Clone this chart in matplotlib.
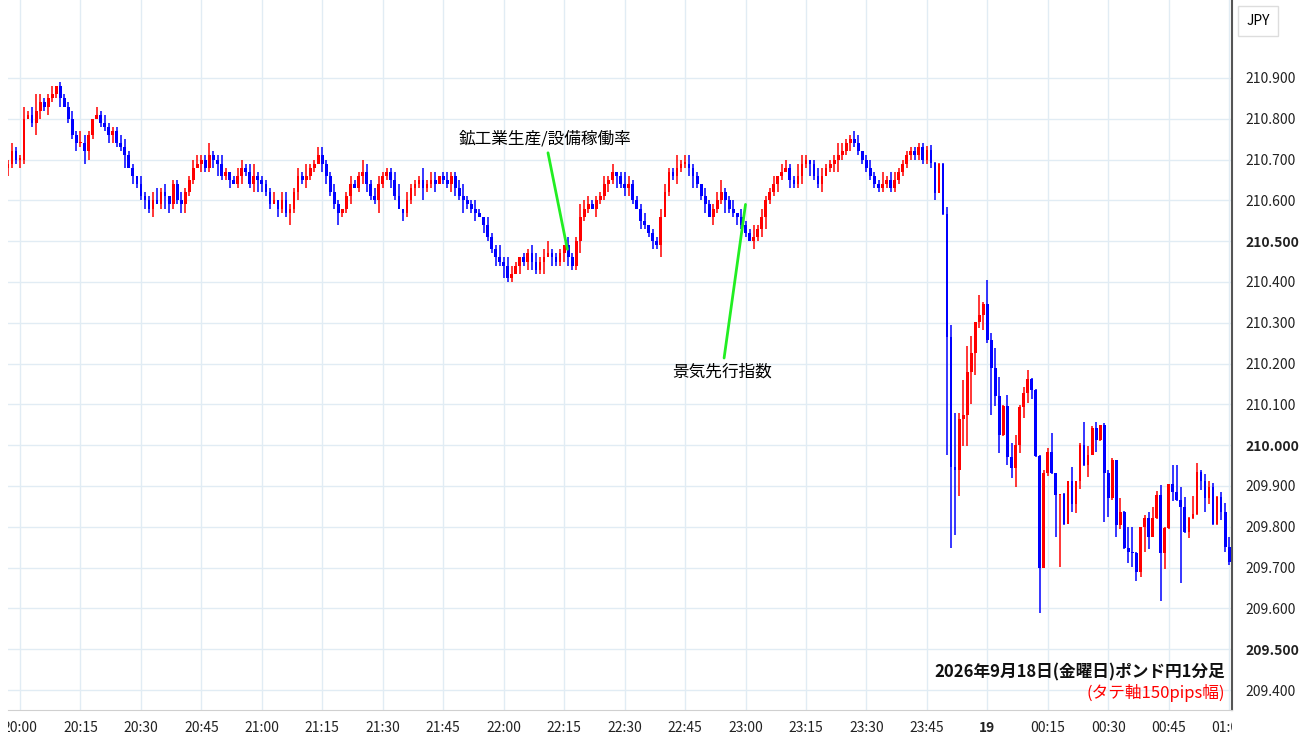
import matplotlib.pyplot as plt
from matplotlib.transforms import Bbox, TransformedBbox

plt.rcParams['font.family'] = ['Noto Sans CJK JP', 'DejaVu Sans']

# 1-minute closes, 19:57 .. 23:45
quiet_close = [
    210.690, 210.720, 210.700,
    210.700, 210.800, 210.810, 210.790, 210.820, 210.840, 210.830, 210.850, 210.860, 210.880, 210.850, 210.830, 210.800, 210.760, 210.740,
    210.740, 210.720, 210.760, 210.800, 210.810, 210.790, 210.780, 210.760, 210.770, 210.740, 210.730, 210.710, 210.680, 210.660, 210.640,
    210.610, 210.600, 210.580, 210.600, 210.590, 210.620, 210.610, 210.590, 210.640, 210.600, 210.590, 210.620, 210.650, 210.680, 210.690,
    210.700, 210.680, 210.710, 210.700, 210.690, 210.660, 210.670, 210.650, 210.640, 210.660, 210.680, 210.670, 210.640, 210.660, 210.650,
    210.640, 210.620, 210.590, 210.600, 210.580, 210.600, 210.570, 210.580, 210.620, 210.660, 210.650, 210.660, 210.680, 210.690, 210.710,
    210.690, 210.660, 210.620, 210.590, 210.570, 210.580, 210.610, 210.640, 210.630, 210.660, 210.670, 210.640, 210.610, 210.600, 210.640,
    210.660, 210.670, 210.650, 210.610, 210.580, 210.570, 210.600, 210.630, 210.640, 210.650, 210.630, 210.640, 210.650, 210.640, 210.660,
    210.650, 210.640, 210.660, 210.630, 210.610, 210.600, 210.590, 210.580, 210.570, 210.560, 210.540, 210.510, 210.480, 210.460, 210.450,
    210.440, 210.410, 210.420, 210.440, 210.460, 210.450, 210.470, 210.450, 210.430, 210.450, 210.460, 210.470, 210.460, 210.450, 210.470,
    210.490, 210.460, 210.440, 210.500, 210.560, 210.580, 210.590, 210.580, 210.600, 210.610, 210.640, 210.650, 210.670, 210.660, 210.640,
    210.630, 210.640, 210.600, 210.580, 210.550, 210.540, 210.520, 210.500, 210.490, 210.560, 210.620, 210.670, 210.660, 210.680, 210.690,
    210.690, 210.680, 210.660, 210.640, 210.610, 210.590, 210.560, 210.580, 210.600, 210.620, 210.600, 210.580, 210.570, 210.560, 210.540,
    210.520, 210.500, 210.510, 210.530, 210.560, 210.600, 210.620, 210.640, 210.660, 210.670, 210.680, 210.650, 210.640, 210.660, 210.690,
    210.700, 210.690, 210.660, 210.640, 210.660, 210.680, 210.690, 210.700, 210.710, 210.720, 210.740, 210.750, 210.740, 210.720, 210.700,
    210.680, 210.660, 210.640, 210.630, 210.640, 210.650, 210.630, 210.650, 210.670, 210.690, 210.710, 210.720, 210.710, 210.730, 210.700,
    210.723,
]
# wick sizes in pips for the quiet part
wick_up = "1211312421120111213210212111221102112312011211221131121012212311112022112131122112101211321221112302111312201211231121021131221011221231110211322111212013211120112211312211021123112021131211202211321012211132112201211312211"
wick_dn = "2112101321211201121321011221130211212013211221102112311201211232110211312121102211311201221131121021121311201122131120211213110212211302112211311021121312210211213011211231120211311211021231121021121311201231121"

# 23:46 .. 01:00
tail_close = [210.692, 210.619, 210.689, 210.567, 210.264, 209.947, 209.939, 210.063, 210.074, 210.179, 210.225, 210.302, 210.319,
              210.346, 210.258, 210.190, 210.121, 210.025, 210.096, 209.970, 209.945, 210.000, 210.094, 210.127, 210.161, 210.135,
              209.973, 209.700, 209.931, 209.984, 209.931, 209.878, 209.880, 209.808, 209.911, 209.857, 209.911, 210.000, 209.951,
              209.976, 210.041, 210.013, 210.049, 209.931, 209.870, 209.964, 209.804, 209.837, 209.747, 209.739, 209.735, 209.690,
              209.799, 209.821, 209.776, 209.821, 209.878, 209.735, 209.796, 209.905, 209.886, 209.866, 209.849, 209.788, 209.821,
              209.831, 209.935, 209.911, 209.870, 209.898, 209.806, 209.874, 209.837, 209.751, 209.714]
tail_high = [210.736, 210.695, 210.692, 210.691, 210.583, 210.295, 210.078, 210.080, 210.160, 210.243, 210.268, 210.303, 210.368,
             210.352, 210.405, 210.274, 210.237, 210.168, 210.098, 210.123, 210.006, 210.025, 210.098, 210.143, 210.184, 210.164,
             210.137, 209.976, 209.939, 209.992, 210.029, 209.933, 209.880, 209.882, 209.913, 209.947, 209.913, 210.006, 210.058,
             209.998, 210.048, 210.058, 210.049, 210.054, 209.939, 209.968, 209.964, 209.870, 209.839, 209.800, 209.800, 209.737,
             209.799, 209.829, 209.837, 209.849, 209.888, 209.902, 209.799, 209.905, 209.951, 209.951, 209.898, 209.874, 209.823,
             209.875, 209.956, 209.938, 209.929, 209.913, 209.908, 209.875, 209.886, 209.859, 209.774]
tail_low = [210.679, 210.601, 210.617, 210.564, 209.976, 209.749, 209.780, 209.876, 209.998, 209.998, 210.100, 210.172, 210.286,
            210.282, 210.251, 210.074, 210.096, 209.982, 210.022, 209.951, 209.919, 209.898, 209.982, 210.067, 210.103, 210.112,
            209.972, 209.588, 209.700, 209.924, 209.929, 209.774, 209.702, 209.804, 209.807, 209.837, 209.833, 209.892, 209.949,
            209.923, 209.976, 209.984, 210.011, 209.812, 209.825, 209.866, 209.774, 209.794, 209.745, 209.712, 209.701, 209.666,
            209.676, 209.737, 209.745, 209.774, 209.818, 209.619, 209.696, 209.794, 209.862, 209.864, 209.663, 209.786, 209.772,
            209.818, 209.829, 209.890, 209.837, 209.856, 209.804, 209.804, 209.817, 209.737, 209.706]

time_labels = ['20:00', '20:15', '20:30', '20:45', '21:00', '21:15', '21:30', '21:45', '22:00', '22:15', '22:30',
               '22:45', '23:00', '23:15', '23:30', '23:45', '19', '00:15', '00:30', '00:45', '01:00']
price_ticks = [209.4, 209.5, 209.6, 209.7, 209.8, 209.9, 210.0, 210.1, 210.2, 210.3, 210.4, 210.5, 210.6, 210.7, 210.8, 210.9]

nq = len(quiet_close)
up = [int(c) for c in wick_up.ljust(nq, '1')[:nq]]
dn = [int(c) for c in wick_dn.ljust(nq, '1')[:nq]]
close = quiet_close + tail_close
opn = [210.680] + close[:-1]
high, low = [], []
for i, (o, c) in enumerate(zip(opn, close)):
    if i < nq:
        high.append(max(o, c) + up[i] * 0.01)
        low.append(min(o, c) - dn[i] * 0.01)
    else:
        high.append(max(tail_high[i - nq], o, c))
        low.append(min(tail_low[i - nq], o, c))
x = [i - 3 for i in range(len(close))]

fig = plt.figure(figsize=(13, 7.45), dpi=100)
ax = fig.add_axes([8 / 1300, 35 / 745, 1224 / 1300, 710 / 745])
ax.set_xlim(-2.98, 300.7)
ax.set_ylim(209.351, 211.091)

for xi, o, c, h, l in zip(x, opn, close, high, low):
    col = '#ff0000' if c >= o else '#0000ff'
    ax.vlines(xi, l, h, color=col, lw=1.1, zorder=2)
    ax.bar(xi, max(abs(c - o), 0.003), bottom=min(o, c), width=0.68, color=col, zorder=3)

ax.set_yticks(price_ticks)
ax.set_xticks(range(0, 301, 15))
ax.grid(True, color='#e1ecf4', lw=1)
ax.set_axisbelow(True)
for s in ['top', 'left']:
    ax.spines[s].set_visible(False)
ax.spines['right'].set_color('#555555')
ax.spines['right'].set_linewidth(1.5)
ax.spines['bottom'].set_color('#d0d0d0')
ax.yaxis.tick_right()
ax.tick_params(axis='y', length=0, pad=10, labelsize=10, colors='#222222')
ax.tick_params(axis='x', length=0, pad=8, labelsize=10, colors='#222222')
ax.set_yticklabels([f'{p:.3f}' for p in price_ticks])
for t in ax.get_yticklabels():
    if t.get_text() in ('210.500', '210.000', '209.500'):
        t.set_fontweight('bold')
ax.set_xticklabels(time_labels)
clip = TransformedBbox(Bbox([[8 / 1300, 0], [1232 / 1300, 1]]), fig.transFigure)
for t in ax.get_xticklabels():
    t.set_clip_on(True)
    t.set_clip_box(clip)
    if t.get_text() == '19':
        t.set_fontweight('bold')

# event annotations
ax.annotate('鉱工業生産/設備稼働率', xy=(135.8, 210.48), xytext=(130.3, 210.73),
            ha='center', va='bottom', fontsize=12,
            arrowprops=dict(arrowstyle='-', color='#22ee22', lw=2, shrinkA=2, shrinkB=0))
ax.annotate('景気先行指数', xy=(180, 210.59), xytext=(174.2, 210.2),
            ha='center', va='top', fontsize=12,
            arrowprops=dict(arrowstyle='-', color='#22ee22', lw=2, shrinkA=2, shrinkB=0))

fig.text(1225 / 1300, 1 - 672 / 745, '2026年9月18日(金曜日)ポンド円1分足', ha='right', va='center',
         fontsize=12, fontweight='bold', color='#111111')
fig.text(1225 / 1300, 1 - 693 / 745, '(タテ軸150pips幅)', ha='right', va='center',
         fontsize=12, color='#ff0000')
fig.text(1258 / 1300, 1 - 21 / 745, 'JPY', ha='center', va='center', fontsize=10,
         bbox=dict(boxstyle='square,pad=0.6', fc='white', ec='#dddddd'))

plt.savefig('out.png')
